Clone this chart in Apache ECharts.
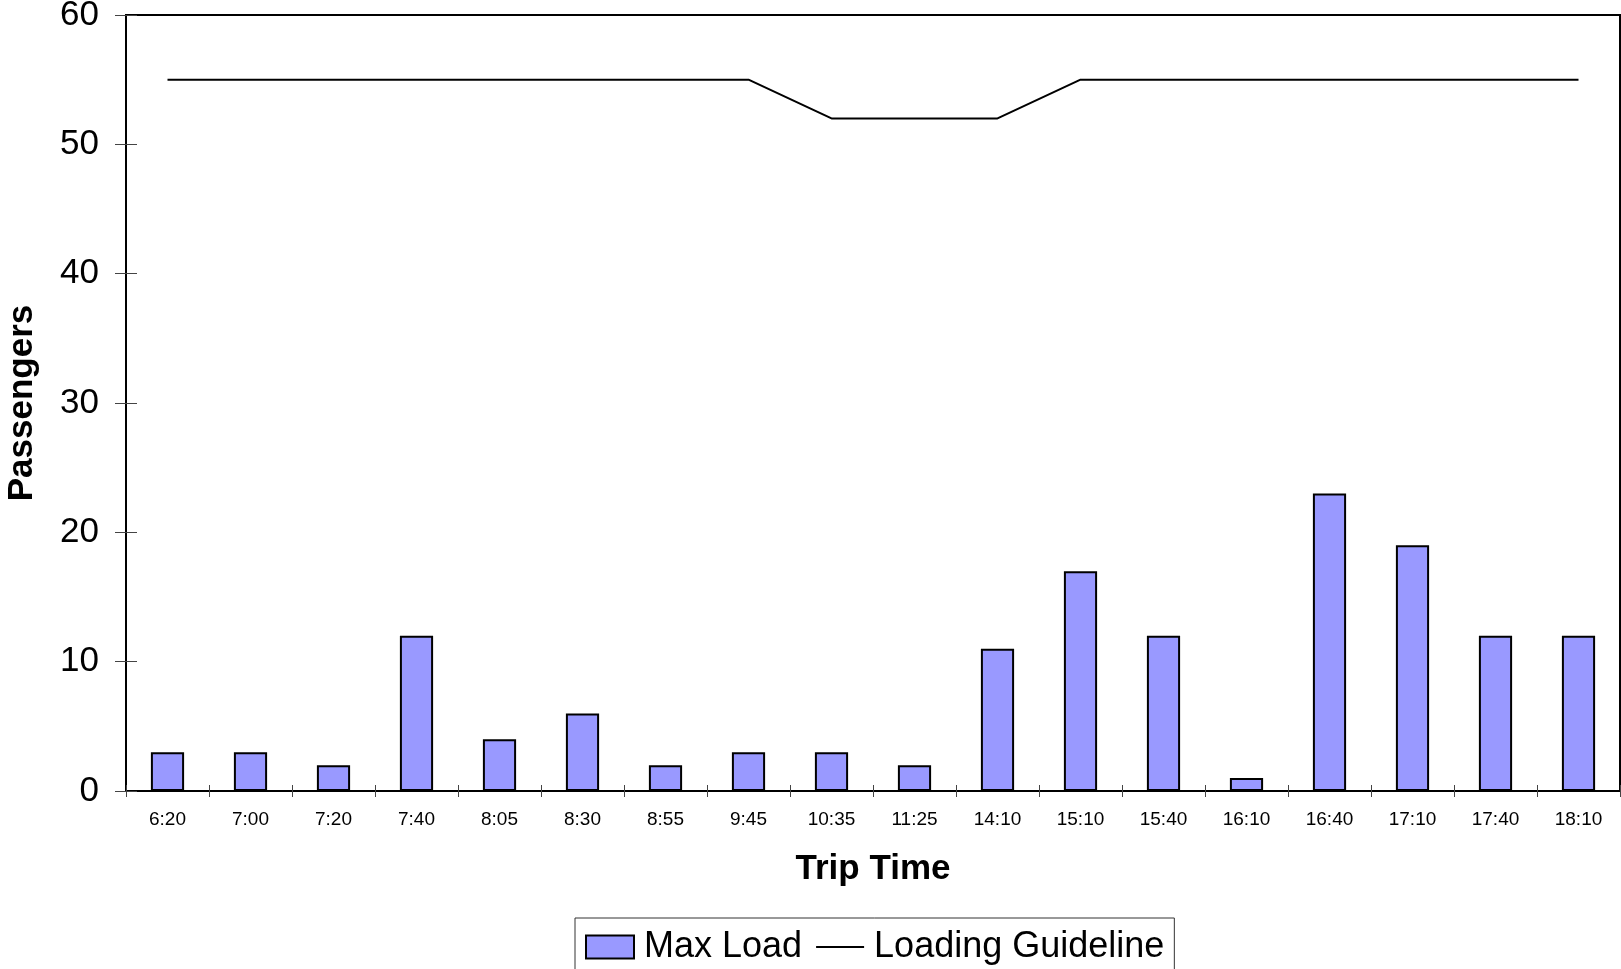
<!DOCTYPE html>
<html>
<head>
<meta charset="utf-8">
<script src="https://cdn.jsdelivr.net/npm/echarts@6/dist/echarts.min.js"></script>
<style>
html,body{margin:0;padding:0;background:#fff;}
#chart{width:1621px;height:969px;}
</style>
</head>
<body>
<div id="chart"></div>
<script>
const categories = ['6:20','7:00','7:20','7:40','8:05','8:30','8:55','9:45','10:35','11:25','14:10','15:10','15:40','16:10','16:40','17:10','17:40','18:10'];
const maxLoad = [3,3,2,12,4,6,2,3,3,2,11,17,12,1,23,19,12,12];
const loadingGuideline = [55,55,55,55,55,55,55,55,52,52,52,55,55,55,55,55,55,55];
const yTicks = {min: 0, max: 60, interval: 10};

const FONT = '"Liberation Sans", Arial, sans-serif';
const chart = echarts.init(document.getElementById('chart'), null, {renderer: 'canvas'});
chart.setOption({
  animation: false,
  textStyle: {fontFamily: FONT, color: '#000'},
  grid: {left: 126, right: 1, top: 15, bottom: 178, show: true, borderColor: '#000', borderWidth: 2,
         containLabel: false, outerBoundsMode: 'none'},
  legend: {
    left: 575, top: 918,
    padding: [11, 10, 5, 10],
    borderColor: '#333', borderWidth: 1,
    itemGap: 14, itemWidth: 48, itemHeight: 23,
    formatter: function (name) { return '{g|}' + name; },
    textStyle: {fontSize: 36, color: '#000', fontFamily: FONT, rich: {g: {width: 5}}},
    data: [
      {name: 'Max Load', icon: 'rect'},
      {name: 'Loading Guideline', icon: 'path://M0,0 L48,0 L48,2 L0,2 Z'}
    ]
  },
  xAxis: [{
    type: 'category', data: categories, position: 'bottom',
    name: 'Trip Time', nameLocation: 'middle', nameGap: 61,
    nameTextStyle: {fontSize: 35, fontWeight: 'bold', color: '#000', fontFamily: FONT},
    axisLine: {lineStyle: {color: '#000', width: 2}},
    axisTick: {show: true, length: 6, inside: false, lineStyle: {color: '#444', width: 1}},
    axisLabel: {interval: 0, fontSize: 19, color: '#000', margin: 19, fontFamily: FONT},
    splitLine: {show: false}
  }, {
    type: 'category', data: categories, position: 'bottom', offset: 0,
    axisLine: {show: false},
    axisTick: {show: true, length: 6, inside: true, lineStyle: {color: '#444', width: 1}},
    axisLabel: {show: false},
    splitLine: {show: false}
  }],
  yAxis: [{
    type: 'value', min: yTicks.min, max: yTicks.max, interval: yTicks.interval, position: 'left',
    name: 'Passengers', nameLocation: 'middle', nameGap: 86,
    nameTextStyle: {fontSize: 35, fontWeight: 'bold', color: '#000', fontFamily: FONT},
    axisLine: {show: true, lineStyle: {color: '#000', width: 2}},
    axisTick: {show: true, length: 11, inside: false, lineStyle: {color: '#444', width: 1}},
    axisLabel: {fontSize: 35, color: '#000', margin: 27, fontFamily: FONT},
    splitLine: {show: false}
  }, {
    type: 'value', min: yTicks.min, max: yTicks.max, interval: yTicks.interval, position: 'left', offset: 0,
    axisLine: {show: false},
    axisTick: {show: true, length: 11, inside: true, lineStyle: {color: '#444', width: 1}},
    axisLabel: {show: false},
    splitLine: {show: false}
  }],
  series: [{
    name: 'Max Load', type: 'bar', xAxisIndex: 0, yAxisIndex: 0,
    data: maxLoad, barWidth: '40%',
    itemStyle: {color: '#9999FF', borderColor: '#000', borderWidth: 2}
  }, {
    name: 'Loading Guideline', type: 'line', xAxisIndex: 0, yAxisIndex: 0,
    data: loadingGuideline, symbol: 'none', showSymbol: false,
    lineStyle: {color: '#000', width: 2},
    itemStyle: {color: '#000', borderWidth: 0}
  }]
});
</script>
</body>
</html>
